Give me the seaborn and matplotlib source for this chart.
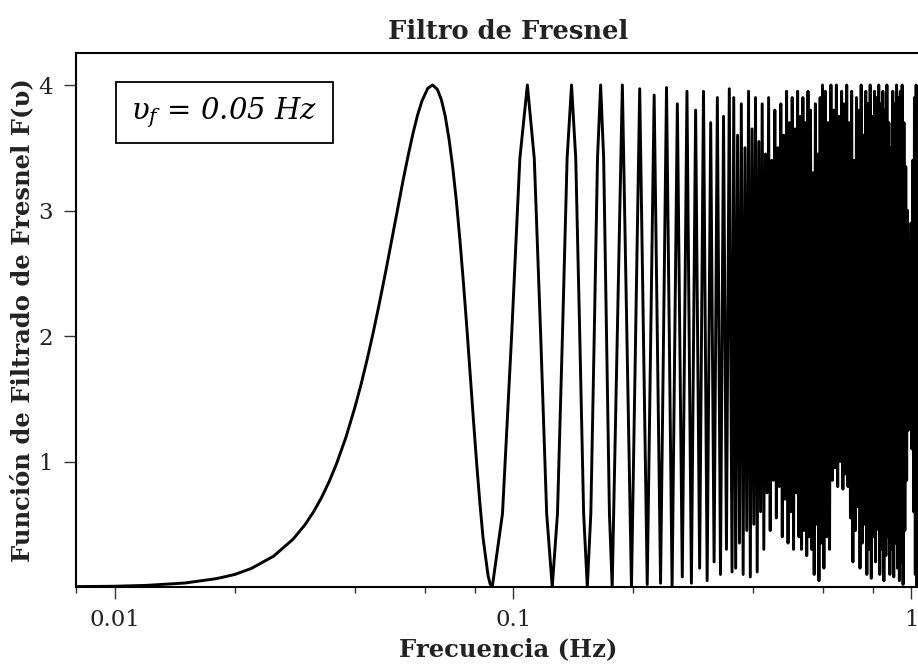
import numpy as np
import pandas as pd
import matplotlib
matplotlib.use("Agg")
import matplotlib.pyplot as plt
from matplotlib.patches import Rectangle
from matplotlib.ticker import LogLocator, NullFormatter, FixedLocator
import seaborn as sns

# ---------------- data ----------------
# smooth rise up to the first zero
freq_rise = [0.008, 0.01, 0.012, 0.015, 0.018, 0.02, 0.022, 0.025, 0.028, 0.03,
             0.0315, 0.033, 0.0345, 0.036, 0.038, 0.04, 0.0415, 0.043, 0.0445, 0.046,
             0.048, 0.05, 0.0515, 0.053, 0.0545, 0.056, 0.0575, 0.059, 0.061, 0.0627,
             0.0645, 0.066, 0.0675, 0.069, 0.0705, 0.072, 0.0735, 0.075, 0.0765, 0.078,
             0.0795, 0.081, 0.0825, 0.084, 0.0865, 0.0875]
F_rise = [0.003, 0.006, 0.013, 0.032, 0.067, 0.10, 0.148, 0.245, 0.381, 0.496,
          0.598, 0.712, 0.840, 0.982, 1.192, 1.427, 1.616, 1.817, 2.027, 2.243,
          2.537, 2.832, 3.046, 3.254, 3.441, 3.612, 3.759, 3.873, 3.973, 4.0,
          3.965, 3.883, 3.752, 3.569, 3.342, 3.074, 2.762, 2.422, 2.063, 1.688,
          1.322, 0.974, 0.665, 0.391, 0.088, 0.025]

# first three wide lobes
freq_lobes = [0.0886, 0.0940, 0.09908, 0.10392, 0.10854, 0.11297, 0.11724, 0.12135,
              0.12533, 0.12919, 0.13293, 0.13657, 0.14012, 0.14358, 0.14696, 0.15027,
              0.15350, 0.15666, 0.15977, 0.16281, 0.16580, 0.16873, 0.17162, 0.17445,
              0.17725]
F_lobes = [0, 0.586, 2.0, 3.414, 4.0, 3.414, 2.0, 0.586,
           0, 0.586, 2.0, 3.414, 4.0, 3.414, 2.0, 0.586,
           0, 0.586, 2.0, 3.414, 4.0, 3.414, 2.0, 0.586,
           0]

# narrow fringes (peaks / troughs)
freq_fringe = [0.18799, 0.19816, 0.20783, 0.21707, 0.22594, 0.23447, 0.24270, 0.25065,
               0.25837, 0.26586, 0.27314, 0.28024, 0.28716, 0.29392, 0.30053, 0.30699,
               0.31332, 0.31953, 0.32561, 0.33159, 0.33746, 0.34322, 0.34890, 0.35448]
F_fringe = [4.0, 0.0, 3.97, 0.02, 3.92, 0.03, 3.98, 0.0,
            3.85, 0.08, 3.95, 0.03, 3.8, 0.15, 3.95, 0.05,
            3.7, 0.2, 3.9, 0.1, 3.75, 0.3, 3.97, 0.12]

# dense (aliased) region, part A
freq_dense_a = [0.358, 0.362, 0.366, 0.370, 0.374, 0.378, 0.382, 0.386, 0.390, 0.394,
                0.398, 0.402, 0.406, 0.410, 0.414, 0.418, 0.422, 0.426, 0.430, 0.434,
                0.438, 0.442, 0.446, 0.450, 0.454, 0.458, 0.462, 0.466, 0.470, 0.474,
                0.478, 0.482, 0.486, 0.490, 0.494, 0.498, 0.502, 0.506, 0.510, 0.514,
                0.518, 0.522, 0.526, 0.530, 0.534, 0.538, 0.542, 0.546, 0.550, 0.554,
                0.558, 0.562, 0.566, 0.570, 0.574, 0.578, 0.582, 0.586, 0.590, 0.594,
                0.598]
F_dense_a = [3.9, 0.15, 3.6, 0.35, 3.85, 0.1, 3.5, 0.45, 3.95, 0.08,
             3.65, 0.5, 3.9, 0.12, 3.55, 0.6, 3.85, 0.3, 3.45, 0.75,
             3.9, 0.45, 3.4, 0.85, 3.8, 0.55, 3.5, 0.8, 3.85, 0.4,
             3.6, 0.7, 3.95, 0.35, 3.7, 0.6, 3.9, 0.3, 3.65, 0.75,
             3.95, 0.4, 3.75, 0.3, 3.9, 0.45, 3.7, 0.25, 3.95, 0.4,
             3.8, 0.3, 3.3, 0.1, 3.85, 0.5, 3.45, 0.05, 3.9, 0.35,
             4.0]

# dense (aliased) region, part B
freq_dense_b = [0.603, 0.608, 0.613, 0.618, 0.623, 0.628, 0.633, 0.638, 0.643, 0.648,
                0.653, 0.658, 0.663, 0.668, 0.673, 0.678, 0.683, 0.688, 0.693, 0.698,
                0.703, 0.708, 0.713, 0.718, 0.723, 0.728, 0.733, 0.738, 0.743, 0.748,
                0.753, 0.758, 0.763, 0.768, 0.773, 0.778, 0.783, 0.788, 0.793, 0.798,
                0.803, 0.808, 0.813, 0.818, 0.823, 0.828, 0.833, 0.838, 0.843, 0.848,
                0.853, 0.858, 0.863, 0.868, 0.873, 0.878, 0.883, 0.888, 0.893, 0.898,
                0.903, 0.908, 0.913, 0.918, 0.923, 0.928, 0.933, 0.938, 0.943, 0.948,
                0.953, 0.958, 0.963, 0.968, 0.973, 0.978, 0.983, 0.988, 0.993, 0.998,
                1.003, 1.008, 1.013, 1.018, 1.023, 1.028, 1.033, 1.038, 1.043, 1.048,
                1.053, 1.058]
F_dense_b = [0.15, 3.95, 0.4, 3.7, 0.3, 4.0, 0.85, 3.8, 0.95, 4.0,
             0.8, 3.75, 1.0, 3.95, 0.78, 3.85, 0.9, 4.0, 0.8, 3.7,
             0.55, 3.95, 0.2, 3.4, 0.45, 3.9, 0.64, 3.8, 0.15, 4.0,
             0.35, 3.6, 0.5, 3.95, 0.1, 3.85, 0.3, 4.0, 0.07, 3.75,
             0.4, 3.95, 0.2, 3.9, 0.46, 4.0, 0.1, 3.85, 0.3, 3.95,
             0.05, 3.8, 0.25, 4.0, 0.4, 3.7, 0.1, 3.5, 0.3, 3.95,
             0.08, 3.85, 0.35, 4.0, 0.15, 3.9, 0.05, 3.95, 0.2, 4.0,
             0.02, 3.7, 0.45, 3.35, 0.85, 3.0, 1.25, 2.55, 1.6, 2.9,
             1.1, 3.4, 0.6, 3.9, 0.1, 4.0, 0.0, 3.95, 0.05, 3.9,
             0.1, 3.85]

x_ticks = [0.01, 0.1, 1]
x_ticklabels = ["0.01", "0.1", "1"]
y_ticks = [1, 2, 3, 4]
y_ticklabels = ["1", "2", "3", "4"]

title = "Filtro de Fresnel"
xlabel = "Frecuencia (Hz)"
ylabel = "Función de Filtrado de Fresnel F(υ)"
annot = "υ$_f$ = 0.05 Hz"

# ---------------- assemble ----------------
df = pd.DataFrame({
    "freq": freq_rise + freq_lobes + freq_fringe + freq_dense_a + freq_dense_b,
    "F": F_rise + F_lobes + F_fringe + F_dense_a + F_dense_b,
})

sns.set_theme(style="ticks")
plt.rcParams["font.family"] = ["DejaVu Serif"]
plt.rcParams["mathtext.fontset"] = "dejavuserif"

W, H = 918, 670
AX_L, AX_R, AX_T, AX_B = 76, 940, 53, 587
fig = plt.figure(figsize=(W / 100, H / 100), dpi=100)
ax = fig.add_axes([AX_L / W, (H - AX_B) / H, (AX_R - AX_L) / W, (AX_B - AX_T) / H])

sns.lineplot(data=df, x="freq", y="F", ax=ax, sort=False, estimator=None,
             color="black", linewidth=2.1)

ax.set_xscale("log")
ax.set_xlim(0.00798, 1.18)
ax.set_ylim(0, 4.255)

ax.xaxis.set_major_locator(FixedLocator(x_ticks))
ax.set_xticklabels(x_ticklabels)
ax.xaxis.set_minor_locator(LogLocator(base=10, subs=[2, 4, 6, 8]))
ax.xaxis.set_minor_formatter(NullFormatter())
ax.set_yticks(y_ticks)
ax.set_yticklabels(y_ticklabels)

txt_color = "#222222"
ax.tick_params(axis="both", which="major", direction="out", length=8.5, width=1.0,
               color="#333333", labelsize=16.5, labelcolor=txt_color)
ax.tick_params(axis="x", which="major", pad=7)
ax.tick_params(axis="y", which="major", pad=8)
ax.tick_params(axis="x", which="minor", direction="out", length=4.3, width=1.0,
               color="#333333")

for side in ["left", "bottom", "top"]:
    ax.spines[side].set_linewidth(1.5)
    ax.spines[side].set_color("black")
ax.spines["right"].set_visible(False)

ax.set_xlabel(xlabel, fontsize=17.5, fontweight="bold", color=txt_color, labelpad=5)
ax.set_ylabel(ylabel, fontsize=17.5, fontweight="bold", color=txt_color, labelpad=3)
ax.set_title(title, fontsize=18.5, fontweight="bold", color=txt_color, pad=10)

# annotation box
ax_w = AX_R - AX_L
ax_h = AX_B - AX_T
bx0, bx1, by0, by1 = 116, 333, 82, 143
rect = Rectangle(((bx0 - AX_L) / ax_w, (AX_B - by1) / ax_h),
                 (bx1 - bx0) / ax_w, (by1 - by0) / ax_h,
                 transform=ax.transAxes, facecolor="white", edgecolor="black",
                 linewidth=1.3, zorder=5)
ax.add_patch(rect)
ax.text(((bx0 + bx1) / 2 - AX_L) / ax_w, (AX_B - (by0 + by1) / 2) / ax_h, annot,
        transform=ax.transAxes, ha="center", va="center", fontsize=21,
        fontstyle="italic", color="black", zorder=6)

fig.savefig("out.png", dpi=100)
